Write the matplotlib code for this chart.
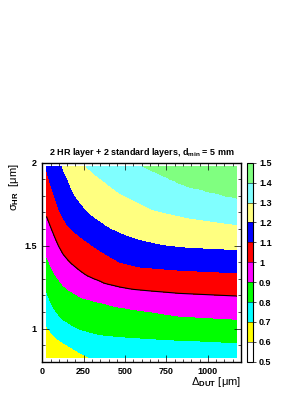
import numpy as np
import matplotlib
matplotlib.use("Agg")
import matplotlib.pyplot as plt
from matplotlib.colors import ListedColormap, BoundaryNorm
from matplotlib.ticker import MultipleLocator

plt.rcParams["font.family"] = ["Liberation Sans", "DejaVu Sans"]
plt.rcParams["mathtext.fontset"] = "custom"
plt.rcParams["mathtext.rm"] = "Liberation Sans"
plt.rcParams["mathtext.bf"] = "Liberation Sans:bold"
plt.rcParams["mathtext.it"] = "Liberation Sans:italic"

# scan points (Delta_DUT in um, sigma_HR in um)
x_centres = np.arange(25, 1176, 25)
y_centres = np.arange(0.825, 1.976, 0.025)

# contour levels and colours
levels = [0.5, 0.6, 0.7, 0.8, 0.9, 1.0, 1.1, 1.2, 1.3, 1.4, 1.5]
level_labels = ["0.5", "0.6", "0.7", "0.8", "0.9", "1", "1.1", "1.2", "1.3", "1.4", "1.5"]
band_colors = ["#ffffff", "#ffff00", "#00ffff", "#00ff00", "#ff00ff",
               "#ff0000", "#0000ff", "#ffff80", "#80ffff", "#80ff80"]

b06_x = [25, 300, 1175]
b06_y = [0.78, 0.70, 0.62]
b07_x = [25, 78, 158, 258, 300, 400, 700, 1175]
b07_y = [1.016, 0.946, 0.896, 0.836, 0.82, 0.79, 0.76, 0.74]
b08_x = [25, 58, 118, 218, 358, 538, 826, 1175]
b08_y = [1.226, 1.136, 1.056, 0.996, 0.96, 0.946, 0.93, 0.916]
b09_x = [25, 68, 138, 238, 358, 466, 826, 1175]
b09_y = [1.436, 1.336, 1.246, 1.186, 1.156, 1.13, 1.075, 1.056]
b10_x = [25, 56, 96, 130, 170, 200, 266, 390, 538, 826, 1175]
b10_y = [1.676, 1.596, 1.50, 1.44, 1.395, 1.37, 1.318, 1.266, 1.236, 1.212, 1.196]
b11_x = [25, 66, 110, 156, 226, 338, 466, 586, 826, 1175]
b11_y = [1.955, 1.816, 1.69, 1.616, 1.556, 1.476, 1.40, 1.37, 1.352, 1.336]
b12_x = [25, 116, 156, 186, 246, 306, 400, 466, 530, 586, 726, 886, 1175]
b12_y = [2.2, 1.98, 1.896, 1.816, 1.736, 1.676, 1.612, 1.58, 1.555, 1.537, 1.505, 1.488, 1.476]
b13_x = [25, 256, 386, 466, 586, 666, 886, 1175]
b13_y = [2.5, 1.98, 1.876, 1.816, 1.756, 1.716, 1.666, 1.626]
b14_x = [25, 300, 596, 866, 1175]
b14_y = [3.0, 2.3, 1.98, 1.856, 1.782]
b15_x = [25, 600, 1175]
b15_y = [3.5, 2.5, 2.1]

boundaries = [
    (0.6, b06_x, b06_y), (0.7, b07_x, b07_y), (0.8, b08_x, b08_y),
    (0.9, b09_x, b09_y), (1.0, b10_x, b10_y), (1.1, b11_x, b11_y),
    (1.2, b12_x, b12_y), (1.3, b13_x, b13_y), (1.4, b14_x, b14_y),
    (1.5, b15_x, b15_y),
]


def build_map():
    lv = [b[0] for b in boundaries]
    z = np.zeros((len(y_centres), len(x_centres)))
    for j, xv in enumerate(x_centres):
        yb = [np.interp(xv, bx, by) for _, bx, by in boundaries]
        z[:, j] = np.interp(y_centres, yb, lv)
    return z


z = build_map()

fig = plt.figure(figsize=(3.08, 3.98), dpi=100)
ax = fig.add_axes([0.1373, 0.0912, 0.645, 0.5])
cax = fig.add_axes([0.802, 0.0912, 0.021, 0.5])

cmap = ListedColormap(band_colors)
norm = BoundaryNorm(levels, cmap.N)

for v in [250, 500, 750, 1000]:
    ax.axvline(v, color="#d8d8d8", lw=0.5, ls=(0, (1, 1)), zorder=0)
for v in [1.0, 1.5]:
    ax.axhline(v, color="#d8d8d8", lw=0.5, ls=(0, (1, 1)), zorder=0)

cf = ax.contourf(x_centres, y_centres, z, levels=levels, cmap=cmap, norm=norm, zorder=1)
ax.contour(x_centres, y_centres, z, levels=[1.0], colors="black", linewidths=0.8, zorder=2)

ax.set_xlim(0, 1200)
ax.set_ylim(0.8, 2.0)
ax.set_xticks([0, 250, 500, 750, 1000])
ax.set_xticklabels(["0", "250", "500", "750", "1000"])
ax.set_yticks([1, 1.5, 2])
ax.set_yticklabels(["1", "1.5", "2"])
ax.xaxis.set_minor_locator(MultipleLocator(50))
ax.yaxis.set_minor_locator(MultipleLocator(0.1))
ax.tick_params(which="both", direction="in", top=True, right=True, width=0.5)
ax.tick_params(which="major", length=5, labelsize=6.5, pad=4)
ax.tick_params(which="minor", length=2.5)
for lab in ax.get_xticklabels() + ax.get_yticklabels():
    lab.set_fontweight("bold")
for sp in ax.spines.values():
    sp.set_linewidth(1.0)

cbar = fig.colorbar(cf, cax=cax, ticks=levels, drawedges=True)
cbar.ax.set_yticklabels(level_labels)
cbar.ax.tick_params(labelsize=6.5, length=2, width=0.5, pad=2)
for lab in cbar.ax.get_yticklabels():
    lab.set_fontweight("bold")
cbar.outline.set_linewidth(0.8)
cbar.dividers.set_color("black")
cbar.dividers.set_linewidth(0.4)

fig.text(0.461, 0.618, r"2 HR layer + 2 standard layers, d$_{\mathbf{min}}$ = 5 mm",
         ha="center", va="center", fontsize=6.5, fontweight="bold")
fig.text(0.045, 0.59, r"σ$_{\mathbf{HR}}$  [μm]", rotation=90, ha="center", va="top",
         fontsize=8)
fig.text(0.782, 0.04, r"Δ$_{\mathbf{DUT}}$ [μm]", ha="right", va="center", fontsize=8)

fig.savefig("out.png", dpi=100)
